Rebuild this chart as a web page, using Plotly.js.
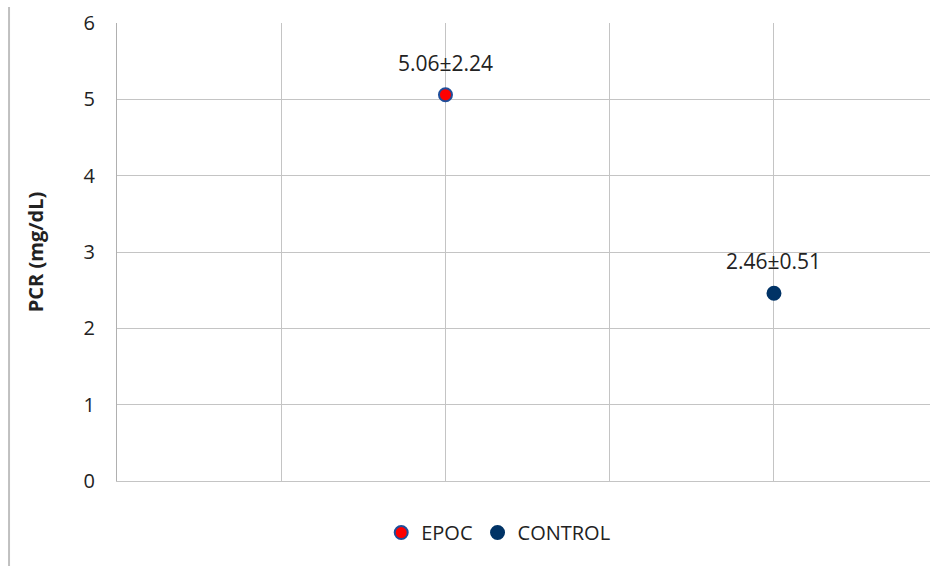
<!DOCTYPE html>
<html>
<head>
<meta charset="utf-8">
<script src="https://cdn.plot.ly/plotly-3.0.1.min.js"></script>
<style>html,body{margin:0;padding:0;background:#fff;}#chart{width:930px;height:566px;}</style>
</head>
<body>
<div id="chart"></div>
<script>
const groups = ["EPOC", "CONTROL"];
const xPositions = [2, 4];
const means = [5.06, 2.46];
const labels = ["5.06±2.24", "2.46±0.51"];
const fillColors = ["#ff0000", "#003366"];
const lineColors = ["#1f4e9a", "#003366"];

const FONT = "Open Sans, Noto Sans, sans-serif";

const traces = groups.map((g, i) => ({
  type: "scatter",
  mode: "markers",
  name: g,
  x: [xPositions[i]],
  y: [means[i]],
  marker: { size: 13, color: fillColors[i], line: { color: lineColors[i], width: 2 } },
  hoverinfo: "skip"
}));

const annotations = groups.map((g, i) => ({
  x: xPositions[i], y: means[i], xref: "x", yref: "y",
  text: labels[i], showarrow: false, yshift: 32,
  font: { family: FONT, size: 21, color: "#222" }
}));

const layout = {
  width: 930, height: 566,
  margin: { l: 117, r: 0, t: 23, b: 85 },
  paper_bgcolor: "#fff", plot_bgcolor: "#fff",
  showlegend: true,
  legend: {
    orientation: "h", x: 0.325, xanchor: "left", y: -0.07, yanchor: "top",
    font: { family: FONT, size: 20, color: "#222" },
    itemwidth: 30, traceorder: "normal"
  },
  xaxis: {
    range: [0, 4.95], dtick: 1, tick0: 0, showticklabels: false,
    showgrid: true, gridcolor: "#c4c4c4", gridwidth: 1,
    zeroline: false, showline: true, linecolor: "#c4c4c4", linewidth: 1,
    ticks: "", fixedrange: true
  },
  yaxis: {
    range: [0, 6], dtick: 1, tick0: 0,
    showgrid: true, gridcolor: "#c4c4c4", gridwidth: 1,
    zeroline: false, showline: true, linecolor: "#b0b0b0", linewidth: 1,
    ticks: "", ticklabelstandoff: 17,
    tickfont: { family: FONT, size: 20, color: "#222" },
    title: { text: "PCR (mg/dL)", font: { family: FONT, size: 20, color: "#222", weight: "bold" }, standoff: 34 }
  },
  annotations: annotations,
  shapes: [{
    type: "line", xref: "paper", yref: "paper",
    x0: -0.1328, x1: -0.1328, y0: 1.035, y1: -0.19,
    line: { color: "#c0c0c0", width: 2 }
  }]
};

Plotly.newPlot("chart", traces, layout, { displayModeBar: false, staticPlot: true });
</script>
</body>
</html>
